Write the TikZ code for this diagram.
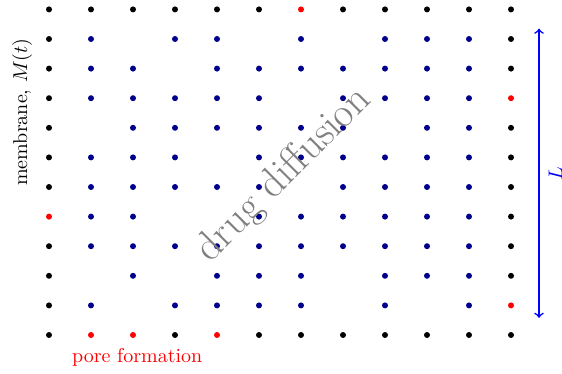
\documentclass[tikz,border=0pt]{standalone}
\usepackage{tikz}
\usetikzlibrary{positioning}
\definecolor{drg}{RGB}{0,0,140}

\begin{document}
\begin{tikzpicture}[x=21pt,y=14.8pt,
  dot/.style={circle,fill,inner sep=0pt,minimum size=3pt},
  wall/.style={dot,fill=black},
  pore/.style={dot,fill=red},
  drug/.style={dot,fill=drg}]
  \useasboundingbox (-1.1667,-1.284) rectangle (12.214,11.318);
  % membrane: black lattice sites on the border, red where a pore opened
  \foreach \i in {0,3,5,6,7,8,9,10,11} \node[wall] (d-\i-0) at (\i,0) {};
  \foreach \i in {0,1,2,3,4,5,7,8,9,10,11} \node[wall] (d-\i-11) at (\i,11) {};
  \foreach \j in {1,2,3,5,6,7,8,9,10} \node[wall] (d-0-\j) at (0,\j) {};
  \foreach \j in {2,3,4,5,6,7,9,10} \node[wall] (d-11-\j) at (11,\j) {};
  \foreach \i/\j in {1/0,2/0,4/0,6/11,0/4,11/8,11/1} \node[pore] (d-\i-\j) at (\i,\j) {};
  % drug molecules inside
  \foreach \j/\cols in {10/{1,3,4,6,8,9,10},9/{1,2,4,5,6,7,8,9,10},8/{1,2,3,4,5,7,8,9,10},
      7/{2,3,4,5,6,7,9,10},6/{1,2,3,5,6,7,8,9,10},5/{1,2,3,4,5,7,8,9,10},
      4/{1,2,5,6,7,8,9,10},3/{1,2,3,4,5,6,7,8,9,10},2/{2,4,5,6,8,9,10},1/{1,3,4,5,6,8,10}}
    \foreach \i in \cols \node[drug] (d-\i-\j) at (\i,\j) {};
  % labels
  \node[rotate=90] (mem) at (-0.64,7.53) {membrane, $M(t)$};
  \node[red] (pf) at (2.1,-0.74) {pore formation};
  \node[gray,font=\huge,rotate=45] (diff) at (5.6,5.4) {drug diffusion};
  \coordinate (ltop) at (11.667,10.35);
  \coordinate (lbot) at (11.667,0.58);
  \draw[<->,thick,blue] (ltop) -- node[blue,rotate=90,anchor=north,inner sep=4.5pt] (len) {$L$} (lbot);
\end{tikzpicture}
\end{document}
